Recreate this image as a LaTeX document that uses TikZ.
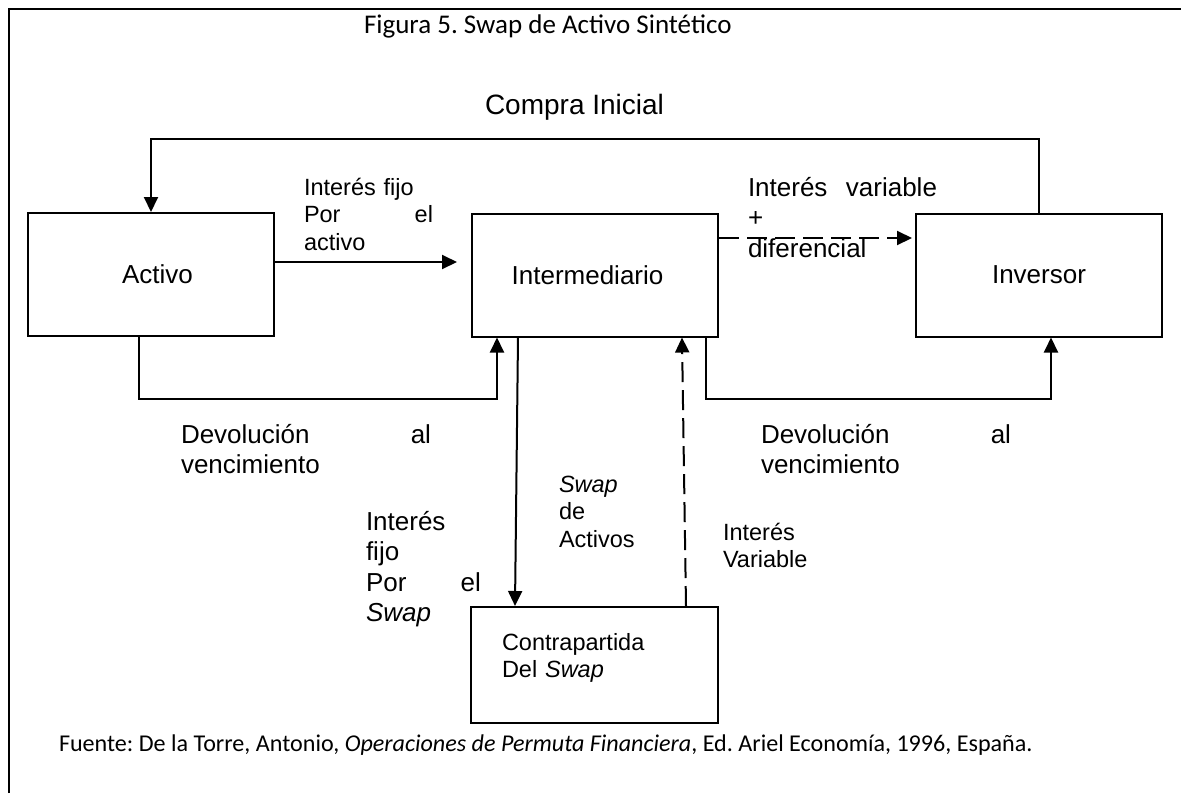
\documentclass[tikz,border=0pt]{standalone}
\usepackage{fontspec}
\setmainfont{Liberation Sans}
\newfontfamily\calibri{Carlito}
\usetikzlibrary{arrows.meta}
\begin{document}
\frenchspacing
\begin{tikzpicture}[x=1pt,y=-1pt,
  line width=2pt,
  arr/.style={-{Triangle[length=15pt,width=14pt]}},
  dsh/.style={dash pattern=on 20pt off 8pt},
  entity/.style={draw,minimum width=246pt,minimum height=123pt,inner sep=0pt,
    font=\fontsize{26}{30}\selectfont},
  lbl/.style={anchor=base west,inner sep=0pt,align=left},
  small/.style={lbl,font=\fontsize{23.5}{27.5}\selectfont},
  big/.style={lbl,font=\fontsize{26}{30.5}\selectfont}]
\useasboundingbox (0,0) rectangle (1181,793);
% frame: only the top and left sides fall inside the page
\draw (9,793) -- (9,9) -- (1181,9);

% title and source line
\node[lbl,font=\calibri\fontsize{27}{30}\selectfont] (title) at (363,33)
  {Figura 5. Swap de Activo Sintético};
\node[lbl,font=\calibri\fontsize{24.1}{28}\selectfont] (src) at (58,751)
  {Fuente: De la Torre, Antonio, \textit{Operaciones de Permuta Financiera}, Ed. Ariel Economía, 1996, España.};

% parties
\node[entity] (act) at (151,274.5) {\hspace*{13pt}Activo};
\node[entity] (inter) at (595,275) {Intermediario\hspace*{15pt}};
\node[entity] (inv) at (1039,275) {Inversor};
\node[draw,minimum width=247pt,minimum height=116pt,inner sep=0pt] (ctr) at (594.5,665) {};

% initial purchase
\draw[arr] (inv.north) -- ++(0,-74) -| (act.north);
\node[lbl,font=\fontsize{28}{32}\selectfont] (compra) at (484,114) {Compra Inicial};

% fixed interest on the asset
\coordinate (fixA) at (act.east |- 0,262);
\coordinate (fixB) at (inter.west |- 0,262);
\draw[arr,shorten >=14pt] (fixA) -- (fixB);
\node[small,text width=129pt] (lfix) at (303,195) {Interés fijo\\Por\hfill el\\activo};

% floating interest plus spread
\coordinate (varA) at (inter.east |- 0,238);
\coordinate (varB) at (inv.west |- 0,238);
\draw[arr,dsh,shorten >=3pt] (varA) -- (varB);
\node[big,text width=189pt] (lvar) at (747,196) {Interés\hfill variable\\+\\diferencial};

% repayment at maturity
\draw[arr] ([xshift=-12pt]act.south) -- ++(0,62) -| ([xshift=-98pt]inter.south);
\draw[arr] ([xshift=111pt]inter.south) -- ++(0,61) -| ([xshift=12pt]inv.south);
\node[big,text width=250pt] (ldevA) at (180,443) {Devolución\hfill al\\vencimiento};
\node[big,text width=250pt] (ldevB) at (760,443) {Devolución\hfill al\\vencimiento};

% the asset swap legs
\draw[arr] ([xshift=-77pt]inter.south) -- ([xshift=-79.5pt]ctr.north);
\draw[arr,dsh] ([xshift=91.5pt]ctr.north) -- ([xshift=87pt]inter.south);
\node[big,text width=115pt] (lfixs) at (365,530) {Interés\\fijo\\Por\hfill el\\\textit{Swap}};
\node[small,text width=90pt] (lswap) at (558,492) {\textit{Swap}\\de\\Activos};
\node[small,text width=100pt] (lflt) at (722,540) {Interés\\Variable};
\node[small,text width=160pt] (lctr) at (501,650) {Contrapartida\\Del \textit{Swap}};
\end{tikzpicture}
\end{document}
